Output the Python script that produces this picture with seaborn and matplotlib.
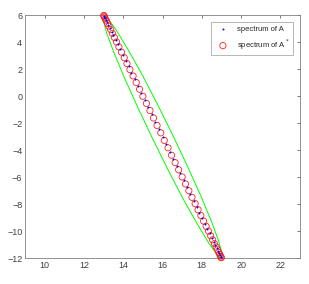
import numpy as np
import pandas as pd
import matplotlib
matplotlib.use('Agg')
import matplotlib.pyplot as plt
import seaborn as sns

# eigenvalues of A^* (red circles)
re_astar = [13.01, 13.02, 13.05, 13.09, 13.14, 13.20, 13.27, 13.36, 13.45, 13.55,
            13.66, 13.78, 13.91, 14.05, 14.19, 14.34, 14.50, 14.66, 14.83, 15.00,
            15.18, 15.36, 15.54, 15.72, 15.91, 16.09, 16.28, 16.46, 16.64, 16.82,
            17.00, 17.17, 17.34, 17.50, 17.66, 17.81, 17.95, 18.09, 18.22, 18.34,
            18.45, 18.55, 18.64, 18.73, 18.80, 18.86, 18.91, 18.95, 18.98, 18.99]
im_astar = [5.98, 5.93, 5.85, 5.73, 5.58, 5.39, 5.18, 4.93, 4.65, 4.35,
            4.01, 3.65, 3.26, 2.85, 2.42, 1.97, 1.50, 1.01, 0.51, -0.01,
            -0.54, -1.07, -1.62, -2.17, -2.72, -3.28, -3.83, -4.38, -4.93, -5.46,
            -5.99, -6.51, -7.01, -7.50, -7.97, -8.42, -8.85, -9.26, -9.65, -10.01,
            -10.35, -10.65, -10.93, -11.18, -11.39, -11.58, -11.73, -11.85, -11.93, -11.98]

# eigenvalues of A (blue dots), sitting between the circles
re_a = [13.02, 13.04, 13.07, 13.12, 13.17, 13.24, 13.32, 13.41, 13.50, 13.61,
        13.72, 13.85, 13.98, 14.12, 14.27, 14.42, 14.58, 14.75, 14.92, 15.09,
        15.27, 15.45, 15.63, 15.82, 16.00, 16.19, 16.37, 16.55, 16.73, 16.91,
        17.09, 17.26, 17.42, 17.58, 17.74, 17.88, 18.02, 18.16, 18.28, 18.40,
        18.50, 18.60, 18.69, 18.77, 18.83, 18.89, 18.93, 18.97, 18.99]
im_a = [5.96, 5.89, 5.79, 5.66, 5.49, 5.29, 5.06, 4.79, 4.50, 4.18,
        3.83, 3.46, 3.06, 2.64, 2.20, 1.74, 1.26, 0.76, 0.25, -0.28,
        -0.81, -1.35, -1.90, -2.45, -3.00, -3.56, -4.11, -4.66, -5.20, -5.73,
        -6.25, -6.76, -7.26, -7.74, -8.20, -8.64, -9.06, -9.46, -9.83, -10.18,
        -10.50, -10.79, -11.06, -11.29, -11.49, -11.66, -11.79, -11.89, -11.96]

# green boundary curve
re_bound = [13.00, 13.23, 13.65, 14.23, 14.94, 15.71, 16.50, 17.26, 17.94, 18.48,
            18.85, 19.03, 19.00, 18.77, 18.35, 17.77, 17.06, 16.29, 15.50, 14.74,
            14.06, 13.52, 13.15, 12.97, 13.00]
im_bound = [6.00, 5.74, 4.88, 3.48, 1.65, -0.51, -2.83, -5.17, -7.36, -9.25,
            -10.71, -11.65, -12.00, -11.74, -10.88, -9.48, -7.65, -5.49, -3.17, -0.83,
            1.36, 3.25, 4.71, 5.65, 6.00]

x_ticks = [10, 12, 14, 16, 18, 20, 22]
y_ticks = [-12, -10, -8, -6, -4, -2, 0, 2, 4, 6]

sns.set_style('white')
plt.rcParams['font.family'] = ['Liberation Sans', 'DejaVu Sans']

fig = plt.figure(figsize=(3.09, 2.84), dpi=100)
ax = fig.add_axes([0.081, 0.0915, 0.890, 0.855])

bound = pd.DataFrame({'re': re_bound, 'im': im_bound})
sns.lineplot(data=bound, x='re', y='im', sort=False, color='#00ff00', linewidth=0.7, ax=ax)

sns.scatterplot(x=re_a, y=im_a, ax=ax, marker='.', color='#0000ff', s=8,
                linewidth=0, label='spectrum of A', zorder=4)
sns.scatterplot(x=re_astar, y=im_astar, ax=ax, marker='o', facecolor='none',
                edgecolor='#ff2020', s=20, linewidth=0.6, label='spectrum of A$^*$', zorder=3)
for c in ax.collections:
    c.set_clip_on(False)

ax.set_xlim(9, 23)
ax.set_ylim(-12, 6)
ax.set_xticks(x_ticks)
ax.set_yticks(y_ticks)
ax.set_xlabel('')
ax.set_ylabel('')
ax.tick_params(direction='in', top=True, right=True, length=2.5, width=0.5,
               labelsize=6.5, colors='#404040', pad=2)
for s in ax.spines.values():
    s.set_color('#808080')
    s.set_linewidth(0.6)

leg = ax.legend(loc='upper right', fontsize=5.5, frameon=True, fancybox=False,
                edgecolor='#808080', borderpad=0.5, handletextpad=0.8,
                borderaxespad=0, bbox_to_anchor=(0.975, 0.971), markerscale=1.0)
leg.get_frame().set_linewidth(0.5)

fig.savefig('out.png', dpi=100)
